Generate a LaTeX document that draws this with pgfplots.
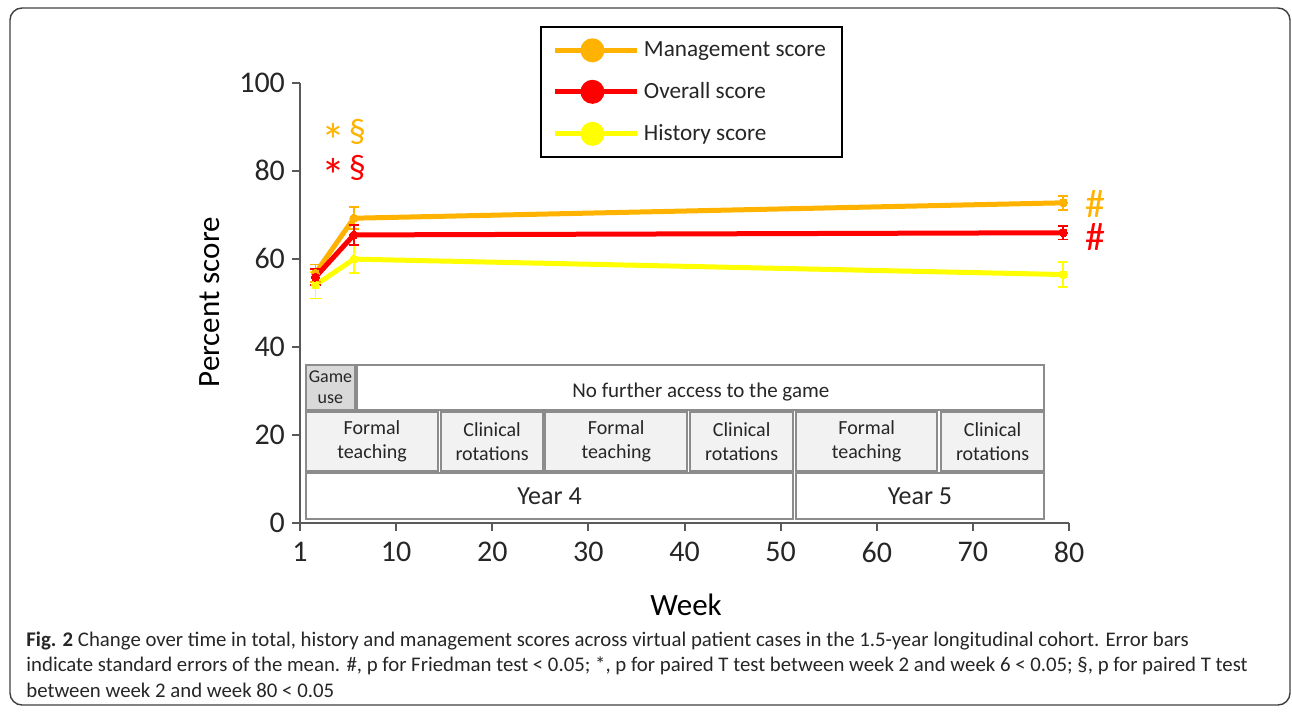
\documentclass[border=0pt]{standalone}
\usepackage{pgfplots}
\pgfplotsset{compat=1.18}
\usepackage{fontspec}
\setmainfont{Carlito}
\definecolor{cMan}{HTML}{FFB300}
\definecolor{cOv}{HTML}{FF0000}
\definecolor{cHis}{HTML}{FFFF00}
\definecolor{axgray}{HTML}{595959}
\definecolor{boxgray}{HTML}{8C8C8C}
\definecolor{fillA}{HTML}{D9D9D9}
\definecolor{fillB}{HTML}{F2F2F2}
\newcommand{\sigmark}{\smash{{\fontsize{24}{24}\selectfont\raisebox{-0.62ex}{*}}\,{\fontsize{17}{17}\selectfont §}}}
\begin{document}
\begin{tikzpicture}
\path[use as bounding box] (0pt,0pt) rectangle (646pt,356.5pt);
\draw[rounded corners=6pt, line width=0.7pt, color=black!75] (5pt,4pt) rectangle (645pt,352.5pt);
\begin{axis}[
  at={(150pt,95.15pt)}, anchor=south west,
  scale only axis, width=384.5pt, height=220pt,
  xmin=0, xmax=80, ymin=0, ymax=100,
  xtick={0,10,...,80}, xticklabels={1,10,20,30,40,50,60,70,80},
  ytick={0,20,...,100},
  axis lines*=left,
  axis line style={axgray, line width=1pt},
  tick style={axgray, line width=1pt},
  tick align=outside, major tick length=4pt,
  /pgf/number format/assume math mode=true,
  tick label style={font=\fontsize{15}{18}\selectfont, text=black!85},
  xticklabel style={yshift=-2pt},
  xlabel={Week}, ylabel={Percent score},
  xlabel style={font=\fontsize{15.5}{18}\selectfont, at={(axis description cs:0.502,-0.187)}, anchor=center},
  ylabel style={font=\fontsize{15.5}{18}\selectfont, at={(axis description cs:-0.117,0.501)}, anchor=center, rotate=0},
  clip=false,
  legend style={at={(0.312,1.128)}, anchor=north west, draw=black, line width=1pt,
    font=\fontsize{11.6}{13}\selectfont, text=black!85, inner xsep=6pt, inner ysep=5pt, row sep=7.5pt,
    /tikz/every even column/.append style={column sep=3pt}},
  legend cell align=left,
]
% annotation boxes
\draw[boxgray, line width=1pt, fill=fillA] (axis cs:0.62,35.8) rectangle (axis cs:5.72,25.7);
\node[align=center, font=\fontsize{9}{10.5}\selectfont, text=black!85] at (axis cs:3.17,30.75) {Game\\use};
\draw[boxgray, line width=1pt, fill=white] (axis cs:5.93,35.8) rectangle (axis cs:77.4,25.7);
\node[font=\fontsize{10.5}{12}\selectfont, text=black!85] at (axis cs:41.7,29.8) {No further access to the game};
\foreach \a/\b in {0.62/14.36,14.67/25.3,25.5/40.3,40.6/51.3,51.6/66.3,66.7/77.4}{
  \edef\tmp{\noexpand\draw[boxgray, line width=1pt, fill=fillB] (axis cs:\a,25.1) rectangle (axis cs:\b,11.8);}\tmp
}
\node[align=center, font=\fontsize{10}{12}\selectfont, text=black!85] at (axis cs:7.49,18.45) {Formal\\teaching};
\node[align=center, font=\fontsize{10}{12}\selectfont, text=black!85] at (axis cs:19.98,18.45) {Clinical\\rotations};
\node[align=center, font=\fontsize{10}{12}\selectfont, text=black!85] at (axis cs:32.9,18.45) {Formal\\teaching};
\node[align=center, font=\fontsize{10}{12}\selectfont, text=black!85] at (axis cs:45.95,18.45) {Clinical\\rotations};
\node[align=center, font=\fontsize{10}{12}\selectfont, text=black!85] at (axis cs:58.95,18.45) {Formal\\teaching};
\node[align=center, font=\fontsize{10}{12}\selectfont, text=black!85] at (axis cs:72.05,18.45) {Clinical\\rotations};
\draw[boxgray, line width=1pt, fill=white] (axis cs:0.62,11.2) rectangle (axis cs:51.3,0.9);
\node[font=\fontsize{13}{15}\selectfont, text=black!85] at (axis cs:25.96,6.05) {Year 4};
\draw[boxgray, line width=1pt, fill=white] (axis cs:51.6,11.2) rectangle (axis cs:77.4,0.9);
\node[font=\fontsize{13}{15}\selectfont, text=black!85] at (axis cs:64.5,6.05) {Year 5};
% significance marks
\node[anchor=base west, inner sep=0pt, text=cMan] at (axis cs:2.2,86.3) {\sigmark};
\node[anchor=base west, inner sep=0pt, text=cOv] at (axis cs:2.2,78.3) {\sigmark};
\node[anchor=base, inner sep=0pt, font=\fontsize{20}{20}\selectfont, text=cMan] at (axis cs:82.8,69.25) {\smash{\#}};
\node[anchor=base, inner sep=0pt, font=\fontsize{20}{20}\selectfont, text=cOv] at (axis cs:82.8,61.9) {\smash{\#}};
% legend images
\addlegendimage{legend image code/.code={\draw[cMan, line width=2.5pt] (0pt,0pt) -- (41pt,0pt); \fill[cMan] (18.5pt,0pt) circle (5.5pt);}}
\addlegendentry{Management score}
\addlegendimage{legend image code/.code={\draw[cOv, line width=2.5pt] (0pt,0pt) -- (41pt,0pt); \fill[cOv] (18.5pt,0pt) circle (5.5pt);}}
\addlegendentry{Overall score}
\addlegendimage{legend image code/.code={\draw[cHis, line width=2.5pt] (0pt,0pt) -- (41pt,0pt); \fill[cHis] (18.5pt,0pt) circle (5.5pt);}}
\addlegendentry{History score}
% data
\addplot[forget plot, cHis, line width=2.5pt, mark=*, mark size=2pt, mark options={fill=cHis, draw=cHis, line width=0pt},
  error bars/.cd, y dir=both, y explicit, error bar style={cHis, line width=0.8pt}, error mark options={cHis, rotate=90, mark size=2.6pt, line width=0.8pt}]
  coordinates {(1.6,54.0) +- (0,3.0) (5.6,59.9) +- (0,3.2) (79.4,56.4) +- (0,2.8)};
\addplot[forget plot, cMan, line width=2.5pt, mark=*, mark size=2pt, mark options={fill=cMan, draw=cMan, line width=0pt},
  error bars/.cd, y dir=both, y explicit, error bar style={cMan, line width=0.8pt}, error mark options={cMan, rotate=90, mark size=2.6pt, line width=0.8pt}]
  coordinates {(1.6,56.7) +- (0,2.0) (5.6,69.2) +- (0,2.5) (79.4,72.7) +- (0,1.6)};
\addplot[forget plot, cOv, line width=2.5pt, mark=*, mark size=2pt, mark options={fill=cOv, draw=cOv, line width=0pt},
  error bars/.cd, y dir=both, y explicit, error bar style={cOv, line width=0.8pt}, error mark options={cOv, rotate=90, mark size=2.6pt, line width=0.8pt}]
  coordinates {(1.6,55.8) +- (0,1.8) (5.6,65.4) +- (0,2.3) (79.4,65.9) +- (0,1.5)};
\end{axis}
\node[anchor=base west, inner sep=0pt, font=\fontsize{10.4}{12}\selectfont, text=black!85] at (13pt,33pt) {\textbf{Fig. 2} Change over time in total, history and management scores across virtual patient cases in the 1.5-year longitudinal cohort. Error bars};
\node[anchor=base west, inner sep=0pt, font=\fontsize{10.4}{12}\selectfont, text=black!85] at (13pt,20.5pt) {indicate standard errors of the mean. \#, p for Friedman test < 0.05; *, p for paired T test between week 2 and week 6 < 0.05; §, p for paired T test};
\node[anchor=base west, inner sep=0pt, font=\fontsize{10.4}{12}\selectfont, text=black!85] at (13pt,8pt) {between week 2 and week 80 < 0.05};
\end{tikzpicture}
\end{document}
